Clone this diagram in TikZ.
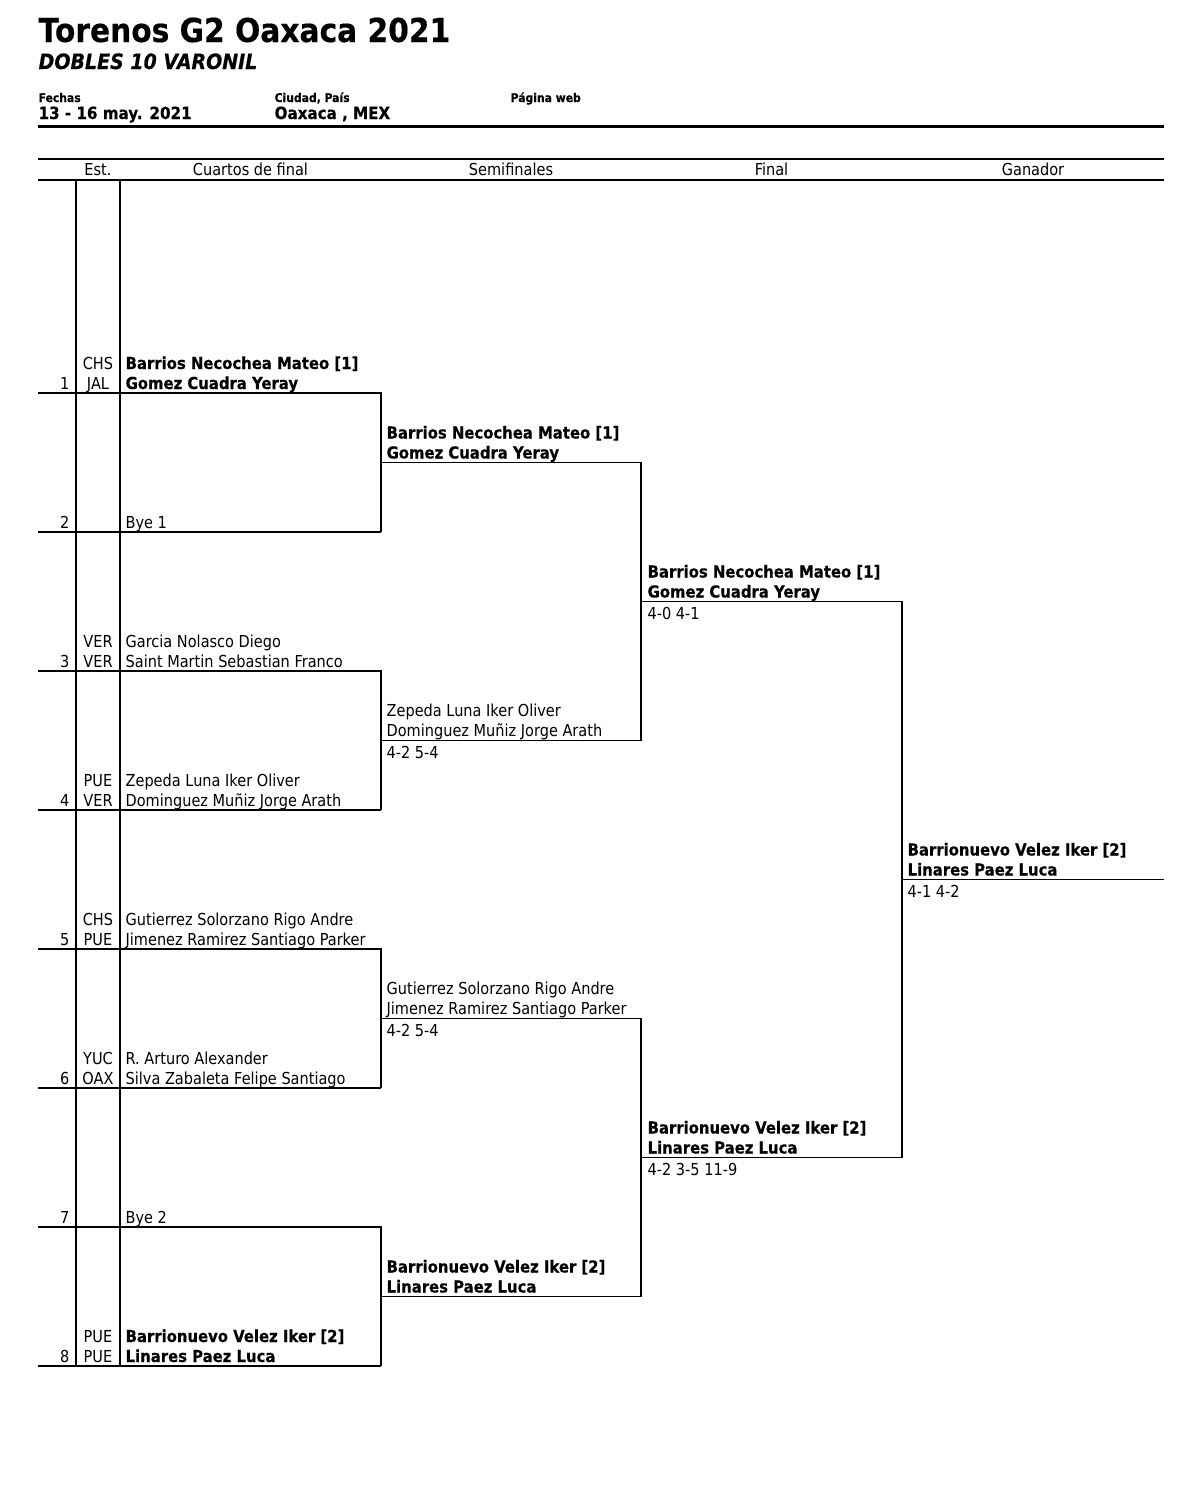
\documentclass[tikz,border=0pt]{standalone}
\usepackage{fontspec}
\setmainfont{DejaVu Sans}[FakeStretch=0.88]
\newfontfamily\boldf{DejaVu Sans}[FakeStretch=0.9,FakeBold=0.4]
\begin{document}
\begin{tikzpicture}[x=1pt,y=-1pt,line width=1.3pt,
  txt/.style={anchor=base west,inner sep=0pt,font=\fontsize{16.5}{20}\selectfont},
  btxt/.style={anchor=base west,inner sep=0pt,font=\boldf\bfseries\fontsize{16.5}{20}\selectfont},
  num/.style={anchor=base east,inner sep=0pt,font=\fontsize{16.5}{20}\selectfont},
  st/.style={anchor=base,inner sep=0pt,font=\fontsize{16.5}{20}\selectfont},
  hdr/.style={anchor=base,inner sep=0pt,font=\fontsize{16.5}{20}\selectfont},
  small/.style={anchor=base west,inner sep=0pt,font=\boldf\bfseries\fontsize{12}{14}\selectfont},
  mid/.style={anchor=base west,inner sep=0pt,font=\boldf\bfseries\fontsize{16.8}{20}\selectfont}]
\useasboundingbox (0,0) rectangle (1176,1510);
\fill[white] (0,0) rectangle (1176,1510);
% header
\node[anchor=base west,inner sep=0pt,font=\boldf\bfseries\fontsize{33}{37}\selectfont] (title) at (38,42) {Torenos G2 Oaxaca 2021};
\node[anchor=base west,inner sep=0pt,font=\boldf\bfseries\itshape\fontsize{21.1}{25}\selectfont] (sub) at (38,69) {DOBLES 10 VARONIL};
\node[small] (fl) at (38,102) {Fechas};
\node[small] (cl) at (274,102) {Ciudad, País};
\node[small] (pl) at (510,102) {Página web};
\node[mid] (fv) at (38,119) {13 - 16 may. 2021};
\node[mid] (cv) at (274,119) {Oaxaca , MEX};
\coordinate (hA) at (38,126.5); \coordinate (hB) at (1164,126.5);
\draw[line width=2.2pt] (hA) -- (hB);
\coordinate (t1) at (38,159); \coordinate (t2) at (1164,159);
\coordinate (b1) at (38,180); \coordinate (b2) at (1164,180);
\draw[line width=1.6pt] (t1) -- (t2);
\draw[line width=1.6pt] (b1) -- (b2);
\node[hdr] (h1) at (98,175.5) {Est.};
\node[hdr] (h2) at (250.5,175.5) {Cuartos de final};
\node[hdr] (h3) at (511,175.5) {Semifinales};
\node[hdr] (h4) at (771.5,175.5) {Final};
\node[hdr] (h5) at (1033,175.5) {Ganador};
% slot coordinates
\foreach \i in {1,...,8}{
  \pgfmathsetmacro{\yy}{393+139*(\i-1)}
  \coordinate (L\i) at (38,\yy);
  \coordinate (R\i) at (381,\yy);
}
\coordinate (va) at (76,180); \coordinate (vb) at (76,1366);
\coordinate (wa) at (120,180); \coordinate (wb) at (120,1366);
\draw (va) -- (vb);
\draw (wa) -- (wb);
% first round
\foreach \a/\b in {1/2,3/4,5/6,7/8}{
  \draw (L\a) -- (R\a) -- (R\b);
  \draw (L\b) -- (R\b);
}
% semis
\coordinate (S1a) at (381,462.5); \coordinate (S1b) at (641,462.5);
\coordinate (S2a) at (381,740.5); \coordinate (S2b) at (641,740.5);
\coordinate (S3a) at (381,1018.5); \coordinate (S3b) at (641,1018.5);
\coordinate (S4a) at (381,1296.5); \coordinate (S4b) at (641,1296.5);
\draw (S1a) -- (S1b) -- (S2b) -- (S2a);
\draw (S3a) -- (S3b) -- (S4b) -- (S4a);
% finals
\coordinate (F1a) at (641,601.5); \coordinate (F1b) at (902,601.5);
\coordinate (F2a) at (641,1157.5); \coordinate (F2b) at (902,1157.5);
\draw (F1a) -- (F1b) -- (F2b) -- (F2a);
\coordinate (Wa) at (902,879.5); \coordinate (Wb) at (1164,879.5);
\draw (Wa) -- (Wb);
% slot texts
\node[num] (n1) at (70,389) {1};
\node[st] (s1a) at (98,369) {CHS}; \node[st] (s1b) at (98,389) {JAL};
\node[btxt] (p1a) at (125,369) {Barrios Necochea Mateo [1]};
\node[btxt] (p1b) at (125,389) {Gomez Cuadra Yeray};
\node[num] (n2) at (70,528) {2};
\node[txt] (p2) at (125,528) {Bye 1};
\node[num] (n3) at (70,667) {3};
\node[st] (s3a) at (98,647) {VER}; \node[st] (s3b) at (98,667) {VER};
\node[txt] (p3a) at (125,647) {Garcia Nolasco Diego};
\node[txt] (p3b) at (125,667) {Saint Martin Sebastian Franco};
\node[num] (n4) at (70,806) {4};
\node[st] (s4a) at (98,786) {PUE}; \node[st] (s4b) at (98,806) {VER};
\node[txt] (p4a) at (125,786) {Zepeda Luna Iker Oliver};
\node[txt] (p4b) at (125,806) {Dominguez Muñiz Jorge Arath};
\node[num] (n5) at (70,945) {5};
\node[st] (s5a) at (98,925) {CHS}; \node[st] (s5b) at (98,945) {PUE};
\node[txt] (p5a) at (125,925) {Gutierrez Solorzano Rigo Andre};
\node[txt] (p5b) at (125,945) {Jimenez Ramirez Santiago Parker};
\node[num] (n6) at (70,1084) {6};
\node[st] (s6a) at (98,1064) {YUC}; \node[st] (s6b) at (98,1084) {OAX};
\node[txt] (p6a) at (125,1064) {R. Arturo Alexander};
\node[txt] (p6b) at (125,1084) {Silva Zabaleta Felipe Santiago};
\node[num] (n7) at (70,1223) {7};
\node[txt] (p7) at (125,1223) {Bye 2};
\node[num] (n8) at (70,1362) {8};
\node[st] (s8a) at (98,1342) {PUE}; \node[st] (s8b) at (98,1362) {PUE};
\node[btxt] (p8a) at (125,1342) {Barrionuevo Velez Iker [2]};
\node[btxt] (p8b) at (125,1362) {Linares Paez Luca};
% semifinal texts
\node[btxt] (q1a) at (386,438.5) {Barrios Necochea Mateo [1]};
\node[btxt] (q1b) at (386,458.5) {Gomez Cuadra Yeray};
\node[txt] (q2a) at (386,716.5) {Zepeda Luna Iker Oliver};
\node[txt] (q2b) at (386,736.5) {Dominguez Muñiz Jorge Arath};
\node[txt] (q2s) at (386,758) {4-2 5-4};
\node[txt] (q3a) at (386,994.5) {Gutierrez Solorzano Rigo Andre};
\node[txt] (q3b) at (386,1014.5) {Jimenez Ramirez Santiago Parker};
\node[txt] (q3s) at (386,1036) {4-2 5-4};
\node[btxt] (q4a) at (386,1272.5) {Barrionuevo Velez Iker [2]};
\node[btxt] (q4b) at (386,1292.5) {Linares Paez Luca};
% final texts
\node[btxt] (f1a) at (647,577.5) {Barrios Necochea Mateo [1]};
\node[btxt] (f1b) at (647,597.5) {Gomez Cuadra Yeray};
\node[txt] (f1s) at (647,619) {4-0 4-1};
\node[btxt] (f2a) at (647,1133.5) {Barrionuevo Velez Iker [2]};
\node[btxt] (f2b) at (647,1153.5) {Linares Paez Luca};
\node[txt] (f2s) at (647,1175) {4-2 3-5 11-9};
% winner
\node[btxt] (g1) at (907,855.5) {Barrionuevo Velez Iker [2]};
\node[btxt] (g2) at (907,875.5) {Linares Paez Luca};
\node[txt] (gs) at (907,897) {4-1 4-2};
\end{tikzpicture}
\end{document}
